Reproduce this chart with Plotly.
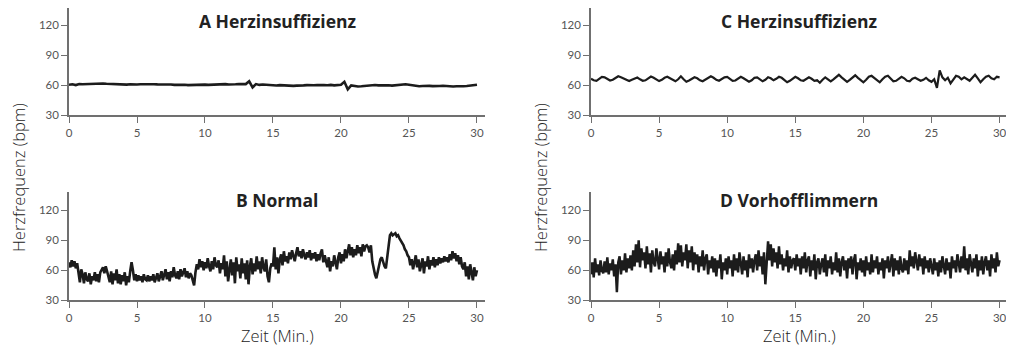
import plotly.graph_objects as go

# ---------------- data ----------------
minutes_ticks = [0, 5, 10, 15, 20, 25, 30]
bpm_ticks = [30, 60, 90, 120]

step_A = 0.25
hr_A = [
    60.5, 61.0, 60.2, 61.3, 61.0, 61.2, 61.5, 61.3,
    61.6, 61.4, 61.8, 61.5, 61.3, 61.0, 61.2, 60.8,
    60.9, 60.7, 61.0, 60.6, 60.8, 61.0, 61.2, 61.0,
    61.3, 61.1, 60.9, 61.0, 60.7, 60.5, 60.8, 60.4,
    60.6, 60.3, 60.5, 60.2, 60.4, 60.6, 60.3, 60.5,
    60.7, 60.4, 60.6, 60.8, 60.6, 60.9, 61.2, 60.8,
    60.6, 61.0, 61.3, 61.0, 61.2, 64.0, 58.0, 61.2,
    60.4, 60.8, 60.5, 60.2, 60.0, 59.8, 60.2, 59.9,
    59.6, 59.8, 59.4, 59.7, 59.5, 59.9, 60.2, 59.8,
    60.0, 60.3, 59.9, 60.2, 60.1, 60.4, 59.9, 60.2,
    60.5, 63.5, 56.0, 59.8, 59.2, 58.8, 59.0, 59.4,
    59.7, 60.0, 60.3, 59.9, 60.1, 60.4, 60.0, 59.7,
    60.0, 60.4, 60.8, 61.0, 60.6, 60.0, 59.4, 59.1,
    59.3, 59.0, 59.4, 59.2, 59.0, 59.3, 59.6, 59.2,
    59.0, 58.8, 59.1, 58.9, 59.0, 59.3, 59.6, 60.2,
    60.6,
]

step_B = 0.1
hr_B = [
    68, 63, 70, 64, 69, 62, 67, 57, 48, 61,
    56, 47, 58, 51, 49, 57, 46, 54, 50, 58,
    49, 56, 48, 58, 61, 63, 57, 64, 59, 53,
    48, 59, 46, 57, 50, 61, 47, 56, 46, 55,
    49, 58, 45, 54, 48, 59, 68, 60, 50, 56,
    49, 55, 50, 54, 48, 56, 51, 50, 55, 49,
    54, 50, 56, 48, 53, 57, 49, 54, 59, 50,
    56, 61, 51, 58, 49, 59, 53, 63, 55, 52,
    59, 51, 61, 54, 58, 62, 53, 59, 52, 57,
    55, 49, 45, 58, 66, 61, 71, 63, 69, 60,
    68, 62, 72, 64, 59, 69, 61, 73, 65, 63,
    70, 57, 67, 61, 75, 54, 69, 49, 63, 71,
    55, 68, 47, 73, 59, 66, 52, 72, 57, 67,
    51, 70, 46, 64, 72, 56, 67, 59, 74, 61,
    69, 57, 73, 63, 59, 71, 54, 48, 62, 67,
    64, 83, 61, 73, 57, 71, 76, 65, 79, 69,
    74, 67, 78, 71, 80, 73, 69, 77, 83, 74,
    79, 72, 81, 75, 71, 78, 73, 80, 70, 77,
    72, 78, 69, 76, 70, 77, 81, 68, 75, 69,
    63, 73, 59, 69, 64, 75, 69, 61, 73, 78,
    67, 76, 69, 81, 72, 79, 86, 75, 83, 73,
    81, 75, 85, 77, 83, 74, 86, 79, 84, 85,
    83, 78, 85, 69, 61, 56, 52, 58, 65, 71,
    73, 67, 64, 62, 75, 88, 95, 97, 95, 96,
    97, 94, 95, 92, 90, 87, 85, 81, 79, 75,
    73, 65, 71, 61, 69, 75, 63, 71, 59, 68,
    72, 57, 69, 64, 74, 61, 70, 65, 73, 63,
    71, 65, 73, 67, 72, 68, 74, 69, 73, 68,
    76, 70, 79, 72, 77, 69, 75, 66, 73, 64,
    61, 68, 54, 64, 51, 66, 57, 50, 63, 54,
    60,
]

step_C = 0.2
hr_C = [
    66.5, 65.0, 64.5, 66.5, 68.5, 68.0,
    66.0, 64.8, 65.5, 67.5, 69.0, 68.0,
    66.5, 65.0, 64.2, 65.5, 67.0, 67.8,
    66.0, 64.5, 65.0, 67.0, 68.8, 67.5,
    65.5, 64.2, 65.5, 67.5, 68.5, 66.8,
    65.0, 64.0, 66.0, 69.0, 66.0, 63.5,
    64.8, 66.5, 68.0, 67.0, 65.0, 64.0,
    65.5, 67.5, 69.0, 67.5, 65.5, 64.5,
    66.0, 68.0, 68.5, 66.5, 64.5, 64.8,
    66.5, 68.5, 67.0, 65.0, 63.5, 65.0,
    67.5, 68.0, 65.5, 64.0, 65.5, 68.0,
    67.0, 65.0, 66.5, 68.5, 67.5, 65.5,
    63.0, 64.5, 67.0, 68.5, 67.0, 65.0,
    64.5, 66.5, 68.0, 66.5, 64.5, 65.0,
    62.5, 65.5, 68.0, 66.0, 64.0, 66.0,
    68.5, 70.5, 68.0, 65.5, 63.5, 65.5,
    68.0, 70.0, 67.5, 65.0, 63.0, 65.5,
    68.5, 69.5, 67.0, 64.5, 63.0, 66.0,
    68.5, 69.5, 66.5, 64.0, 64.5, 67.0,
    68.5, 67.0, 64.5, 64.0, 66.5, 67.5,
    66.0, 64.5, 65.5, 67.5, 65.0, 63.5,
    66.0, 57.5, 75.0, 68.0, 65.0, 67.5,
    62.0, 66.0, 69.5, 68.5, 66.0, 68.0,
    66.5, 64.5, 67.5, 70.5, 67.0, 63.0,
    66.0, 68.5, 69.5, 67.0, 66.0, 68.5,
    68.0,
]

step_D = 0.1
hr_D = [
    56, 68, 53, 72, 58, 66, 55, 70, 60, 57,
    69, 58, 73, 56, 67, 60, 71, 54, 66, 38,
    68, 74, 56, 70, 60, 77, 58, 72, 62, 75,
    60, 80, 64, 86, 68, 90, 63, 82, 70, 78,
    62, 84, 66, 77, 58, 80, 68, 64, 82, 70,
    61, 79, 66, 74, 58, 78, 64, 82, 68, 62,
    76, 60, 80, 66, 87, 68, 85, 64, 78, 70,
    86, 62, 80, 68, 84, 60, 78, 66, 76, 58,
    74, 64, 80, 60, 72, 76, 56, 70, 62, 74,
    58, 72, 54, 70, 62, 76, 51, 68, 60, 72,
    56, 74, 62, 70, 54, 76, 60, 72, 58, 78,
    68, 56, 74, 60, 70, 53, 76, 62, 72, 58,
    70, 76, 60, 80, 64, 74, 56, 78, 46, 72,
    89, 70, 86, 64, 82, 68, 78, 62, 84, 66,
    76, 60, 72, 64, 80, 58, 74, 62, 70, 72,
    60, 76, 64, 72, 56, 74, 62, 78, 58, 70,
    74, 54, 70, 60, 76, 51, 68, 72, 56, 66,
    72, 58, 76, 54, 70, 62, 74, 56, 68, 60,
    78, 58, 72, 54, 68, 74, 60, 70, 52, 72,
    62, 74, 56, 70, 76, 51, 68, 60, 72, 58,
    70, 54, 74, 60, 68, 56, 76, 58, 70, 62,
    74, 56, 68, 60, 72, 52, 70, 62, 74, 58,
    68, 76, 54, 72, 60, 70, 56, 74, 62, 58,
    72, 60, 70, 56, 80, 64, 74, 62, 78, 66,
    60, 76, 64, 72, 56, 74, 62, 70, 58, 72,
    62, 56, 72, 60, 68, 54, 70, 58, 74, 62,
    56, 72, 60, 68, 52, 74, 62, 70, 58, 76,
    68, 58, 74, 62, 84, 60, 72, 56, 76, 64,
    58, 72, 62, 76, 54, 70, 60, 74, 56, 68,
    74, 60, 70, 54, 76, 62, 72, 58, 78, 64,
    70,
]

titles = ["A Herzinsuffizienz", "B Normal", "C Herzinsuffizienz", "D Vorhofflimmern"]
y_title = "Herzfrequenz (bpm)"
x_title = "Zeit (Min.)"

# ---------------- figure ----------------
# The page body has an 8px margin, so the figure is 16px smaller than the window
# and all reference pixel positions are shifted by 8px.
W, H = 998, 340
OFF = 8
FONT = "Lato, 'Noto Sans', sans-serif"
TITLE_FONT = "'Open Sans', 'Noto Sans', sans-serif"
LINE_COL = "#1c1c1c"
AX_COL = "#707070"
TICK_FONT_COL = "#555555"


def px_x(p):
    return (p - OFF) / W


def px_y(p):
    return (H - (p - OFF)) / H


def times(n, step):
    return [i * step for i in range(n)]


panels = [
    # (series, step, xaxis id, yaxis id, line width)
    (hr_A, step_A, "x", "y", 2.6),
    (hr_B, step_B, "x2", "y2", 2.6),
    (hr_C, step_C, "x3", "y3", 2.2),
    (hr_D, step_D, "x4", "y4", 2.5),
]

fig = go.Figure()
for series, step, xa, ya, lw in panels:
    fig.add_trace(go.Scatter(
        x=times(len(series), step), y=series, xaxis=xa, yaxis=ya,
        mode="lines", line=dict(color=LINE_COL, width=lw),
        showlegend=False, hoverinfo="skip",
    ))

left_dom = [px_x(69), px_x(485)]
right_dom = [px_x(591), 1.0]
top_dom = [px_y(115.3), 1.0]
bot_dom = [px_y(300.3), px_y(192.3)]

x_ranges = {"left": [0, 30.59], "right": [0, 30.47]}
y_ranges = {"top": [30, 137.3], "bottom": [30, 138]}

x_common = dict(
    tickvals=minutes_ticks, showline=True, linecolor=AX_COL,
    linewidth=1.5, ticks="outside", ticklen=6, tickcolor=AX_COL, tickwidth=1.2,
    showgrid=False, zeroline=False, automargin=False, ticklabeloverflow="allow",
    tickfont=dict(family=FONT, size=11.5, color=TICK_FONT_COL),
)
y_common = dict(
    tickvals=bpm_ticks, showline=True, linecolor=AX_COL,
    linewidth=1.5, ticks="outside", ticklen=6, tickcolor=AX_COL, tickwidth=1.2,
    showgrid=False, zeroline=False, automargin=False, ticklabeloverflow="allow",
    tickfont=dict(family=FONT, size=11.5, color=TICK_FONT_COL),
)

cells = [(left_dom, top_dom, "left", "top"), (left_dom, bot_dom, "left", "bottom"),
         (right_dom, top_dom, "right", "top"), (right_dom, bot_dom, "right", "bottom")]
layout_axes = {}
for i, (xd, yd, xr, yr) in enumerate(cells, start=1):
    xk = "xaxis" if i == 1 else f"xaxis{i}"
    yk = "yaxis" if i == 1 else f"yaxis{i}"
    xid = "x" if i == 1 else f"x{i}"
    yid = "y" if i == 1 else f"y{i}"
    layout_axes[xk] = dict(x_common, domain=xd, anchor=yid, range=x_ranges[xr])
    layout_axes[yk] = dict(y_common, domain=yd, anchor=xid, range=y_ranges[yr])

annotations = []
# top-row titles hang from the top edge of the figure; bottom-row titles are centred
title_pos = [(277, None), (277, 199.5), (799, None), (799, 199.5)]
for t, (px, py) in zip(titles, title_pos):
    if py is None:
        yv, ya = 1.0, "top"
    else:
        yv, ya = px_y(py), "middle"
    annotations.append(dict(
        text=f"<b>{t}</b>", x=px_x(px), y=yv, xref="paper", yref="paper",
        showarrow=False, xanchor="center", yanchor=ya, borderpad=0,
        font=dict(family=TITLE_FONT, size=17.5, color="#222222"),
    ))
for px in (18, 540):
    annotations.append(dict(
        text=y_title, x=px_x(px), y=px_y(178), xref="paper", yref="paper",
        showarrow=False, textangle=-90, xanchor="center", yanchor="middle",
        font=dict(family=TITLE_FONT, size=16.5, color="#222222", weight=300),
    ))
for px in (277, 799):
    # x-axis titles sit on the bottom edge of the figure
    annotations.append(dict(
        text=x_title, x=px_x(px), y=0.0, xref="paper", yref="paper",
        showarrow=False, xanchor="center", yanchor="bottom", borderpad=0,
        font=dict(family=TITLE_FONT, size=16.5, color="#222222", weight=300),
    ))

fig.update_layout(
    width=W, height=H, margin=dict(l=0, r=0, t=0, b=0, autoexpand=False),
    paper_bgcolor="white", plot_bgcolor="white",
    annotations=annotations, **layout_axes,
)

fig.write_html("out.html")
